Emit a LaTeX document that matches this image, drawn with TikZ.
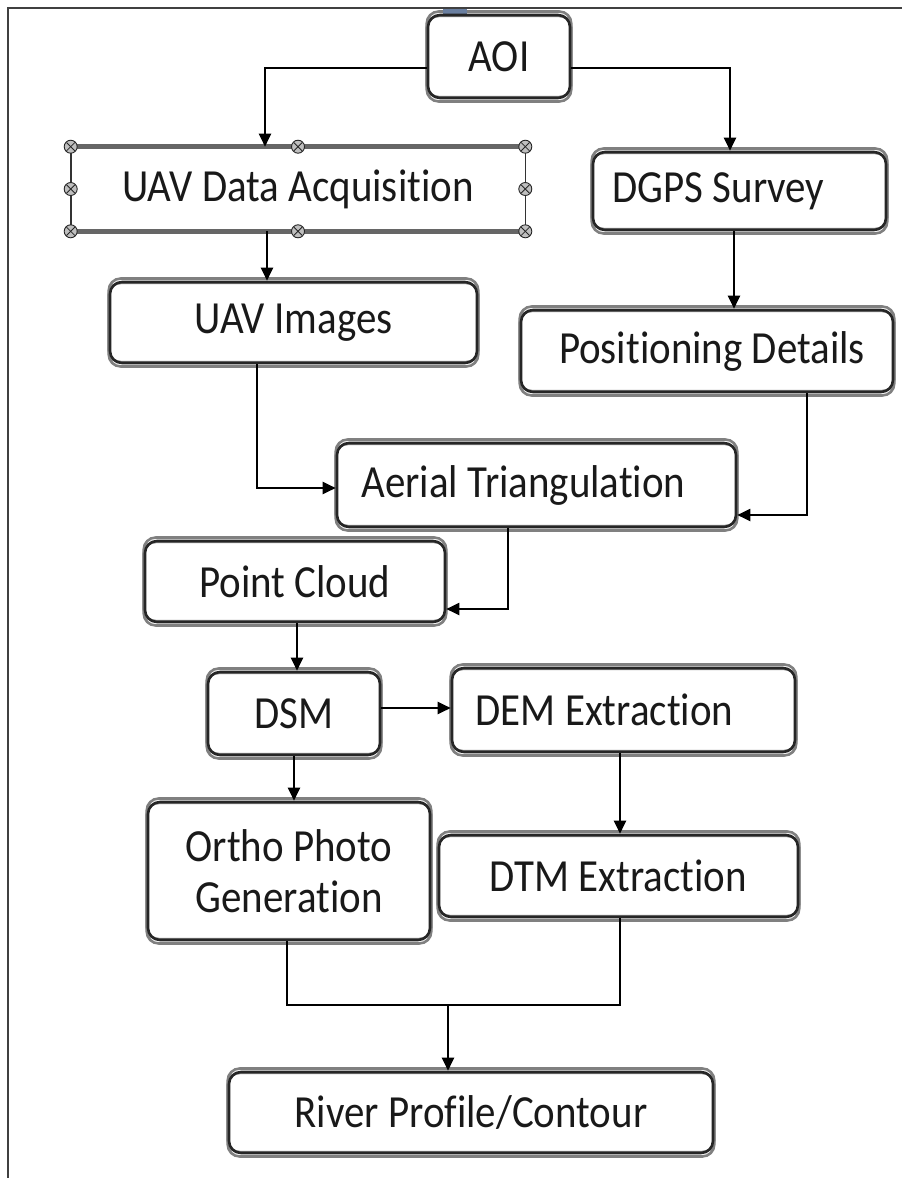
\documentclass[tikz,border=0pt]{standalone}
\usepackage{fontspec}
\setmainfont{Carlito}[FakeStretch=0.89, Ligatures=NoCommon]
\usetikzlibrary{arrows.meta,backgrounds}
\begin{document}
\begin{tikzpicture}[x=1pt,y=-1pt,
  box/.style={draw=black!85, line width=2.6pt, rounded corners=12pt, inner sep=0pt,
    font=\fontsize{46}{51}\selectfont, text=black!90, align=center},
  conn/.style={draw=black, line width=2pt, -{Triangle[length=13pt,width=12pt]}},
  plainline/.style={draw=black, line width=2pt},
  handle/.style={circle, draw=black!85, fill=gray!50, line width=0.9pt, minimum size=13pt, inner sep=0pt},
  frameline/.style={draw=black!75, line width=2pt},
  band/.style={draw=black!50, line width=2.6pt, rounded corners=12pt}]
\useasboundingbox (0,0) rectangle (902,1178);
% frame
\coordinate (f0) at (8,8);
\coordinate (f1) at (902,8);
\coordinate (f2) at (8,1178);
\draw[frameline] (f1) -- (f0) -- (f2);
\fill[fill={rgb,255:red,106;green,127;blue,160}] (443,9) rectangle (467,15);

% boxes
\node[box, minimum width=142pt, minimum height=83pt] (aoi) at (499,56.5) {AOI};
\node[box, draw=none, rounded corners=0pt, minimum width=452pt, minimum height=82pt] (uav) at (298,189) {UAV Data Acquisition};
\node[box, minimum width=293pt, minimum height=78pt] (dgps) at (739.5,191) {DGPS Survey\hspace*{42pt}};
\node[box, minimum width=367pt, minimum height=81pt] (img) at (293.5,322.5) {UAV Images};
\node[box, minimum width=372pt, minimum height=82pt] (pos) at (707,351) {\hspace*{10pt}Positioning Details};
\node[box, minimum width=399pt, minimum height=84pt] (at) at (536.5,485) {Aerial Triangulation\hspace*{26pt}};
\node[box, minimum width=300pt, minimum height=81pt] (pc) at (295,581.5) {Point Cloud};
\node[box, minimum width=172pt, minimum height=83pt] (dsm) at (294,713.5) {DSM};
\node[box, minimum width=343pt, minimum height=84pt] (dem) at (623.5,710) {DEM Extraction\hspace*{38pt}};
\node[box, minimum width=282pt, minimum height=138pt] (ortho) at (289,871) {Ortho Photo\\Generation};
\node[box, minimum width=359pt, minimum height=82pt] (dtm) at (618.5,876) {DTM Extraction};
\node[box, minimum width=484pt, minimum height=81pt] (river) at (471,1112.5) {River Profile/Contour};

% soft grey bands along the horizontal edges
\begin{scope}[on background layer]
\foreach \n in {aoi,dgps,img,pos,at,pc,dsm,dem,ortho,dtm,river}{
  \draw[band, transform canvas={yshift=2.2pt}] (\n.south west) rectangle (\n.north east);
  \draw[band, transform canvas={yshift=-2.2pt}] (\n.south west) rectangle (\n.north east);
}
\end{scope}

% selected box outline
\draw[black!60, line width=5.5pt] (uav.north west) -- (uav.north east);
\draw[black!60, line width=5.5pt] (uav.south west) -- (uav.south east);
\draw[black!80, line width=1.6pt] (uav.north west) -- (uav.south west);
\draw[black!80, line width=1.6pt] (uav.north east) -- (uav.south east);
\foreach \a/\n in {north west/h1, north/h2, north east/h3, west/h4, east/h5, south west/h6, south/h7, south east/h8}{
  \node[handle] (\n) at (uav.\a) {};
  \draw[black!85, line width=0.8pt] (\n.center) ++(-4.2,-4.2) -- ++(8.4,8.4);
  \draw[black!85, line width=0.8pt] (\n.center) ++(-4.2,4.2) -- ++(8.4,-8.4);
}

% connectors
\coordinate (k1) at (265,68);
\coordinate (k2) at (730,68);
\coordinate (k3) at (267,0);
\coordinate (k4) at (734,0);
\coordinate (k5) at (257,488);
\coordinate (k6) at (807,515);
\coordinate (k7) at (508,609);
\coordinate (k8) at (297,0);
\coordinate (k9) at (0,708);
\coordinate (k10) at (294,0);
\coordinate (k11) at (620,0);
\coordinate (k12) at (287,0);
\coordinate (j) at (448,1005);

\draw[conn] (aoi.west |- k1) -| (k1 |- uav.north);
\draw[conn] (aoi.east |- k2) -| (k2 |- dgps.north);
\draw[conn] (k3 |- uav.south) -- (k3 |- img.north);
\draw[conn] (k4 |- dgps.south) -- (k4 |- pos.north);
\draw[conn] (k5 |- img.south) |- (at.west |- k5);
\draw[conn] (k6 |- pos.south) |- (at.east |- k6);
\draw[conn] (k7 |- at.south) |- (pc.east |- k7);
\draw[conn] (k8 |- pc.south) -- (k8 |- dsm.north);
\draw[conn] (dsm.east |- k9) -- (dem.west |- k9);
\draw[conn] (k10 |- dsm.south) -- (k10 |- ortho.north);
\draw[conn] (k11 |- dem.south) -- (k11 |- dtm.north);
\draw[plainline] (k12 |- ortho.south) |- (k11 |- j) -- (k11 |- dtm.south);
\draw[conn] (j) -- (j |- river.north);
\end{tikzpicture}
\end{document}
